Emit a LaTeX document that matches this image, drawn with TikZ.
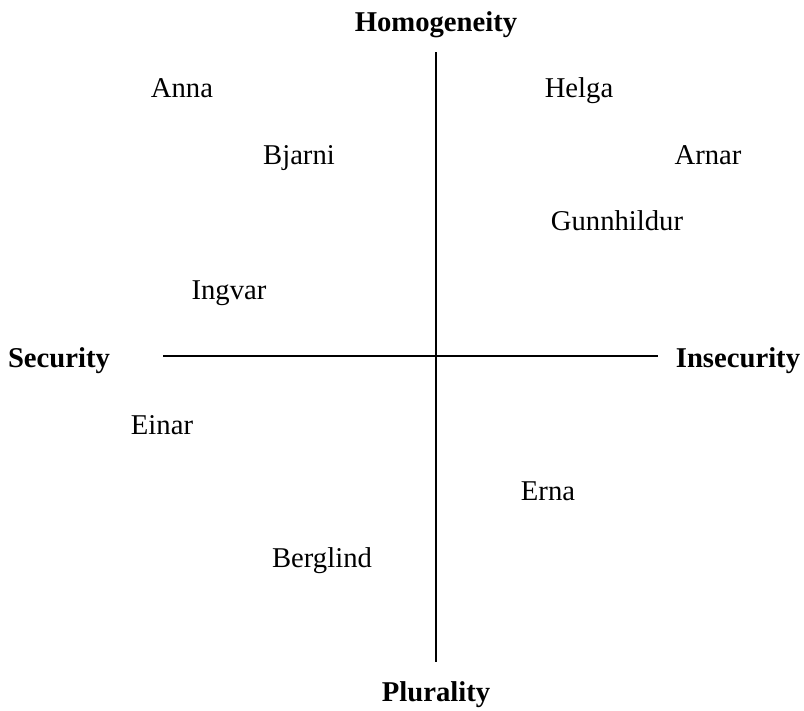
\documentclass[tikz,border=0pt]{standalone}
\usepackage{fontspec}
\setmainfont{Liberation Serif}
\begin{document}
\begin{tikzpicture}[x=0.75pt,y=-0.75pt,
  lbl/.style={font=\fontsize{21.5}{26}\selectfont, inner sep=0pt, text depth=0pt},
  axlbl/.style={font=\fontsize{21.5}{26}\selectfont\bfseries, inner sep=0pt, text depth=0pt},
  axis/.style={line width=1.3pt}]
\useasboundingbox (0,0) rectangle (804,711);
\coordinate (top) at (436,52);
\coordinate (bot) at (436,662);
\coordinate (lft) at (163,356);
\coordinate (rgt) at (658,356);
\draw[axis] (top) -- (bot);
\draw[axis] (lft) -- (rgt);
\node[axlbl] (hom) at (436,22) {Homogeneity};
\node[axlbl] (plu) at (436,692) {Plurality};
\node[axlbl] (sec) at (59,358) {Security};
\node[axlbl] (ins) at (738,358) {Insecurity};
\node[lbl] (anna) at (182,88) {Anna};
\node[lbl] (helga) at (579,88) {Helga};
\node[lbl] (bjarni) at (299,155) {Bjarni};
\node[lbl] (arnar) at (708,155) {Arnar};
\node[lbl] (gunn) at (617,221) {Gunnhildur};
\node[lbl] (ingvar) at (229,290) {Ingvar};
\node[lbl] (einar) at (162,425) {Einar};
\node[lbl] (erna) at (548,491) {Erna};
\node[lbl] (berg) at (322,558) {Berglind};
\end{tikzpicture}
\end{document}
